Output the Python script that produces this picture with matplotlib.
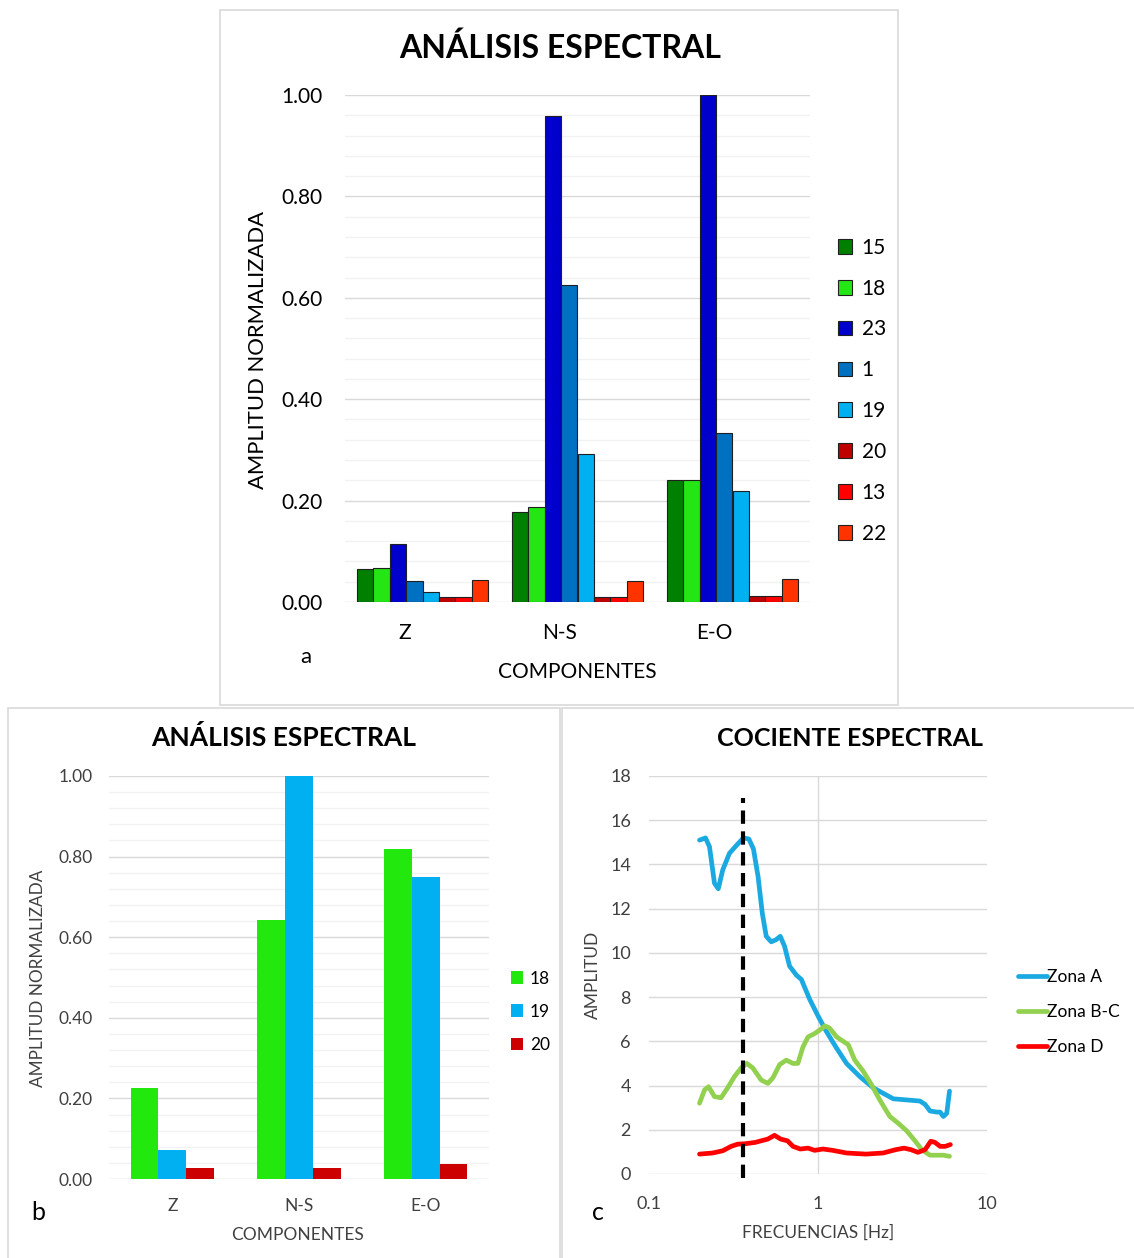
import numpy as np
import matplotlib.pyplot as plt
from matplotlib.patches import Rectangle
from matplotlib.ticker import MultipleLocator, FuncFormatter
from matplotlib.transforms import ScaledTranslation

W, H = 1134, 1258
plt.rcParams['font.family'] = ['Lato', 'DejaVu Sans']

# ---- data: panel a ----
componentes = ["Z", "N-S", "E-O"]
labels_a = ["15", "18", "23", "1", "19", "20", "13", "22"]
amp_15 = [0.065, 0.177, 0.240]
amp_18 = [0.067, 0.188, 0.240]
amp_23 = [0.114, 0.958, 1.000]
amp_1 = [0.042, 0.625, 0.334]
amp_19 = [0.020, 0.291, 0.219]
amp_20 = [0.009, 0.009, 0.012]
amp_13 = [0.010, 0.010, 0.012]
amp_22 = [0.044, 0.042, 0.046]
colors_a = ["#008000", "#24E614", "#0000CC", "#0070C0",
            "#00B0F0", "#C00000", "#FF0000", "#FF3300"]

# ---- data: panel b ----
labels_b = ["18", "19", "20"]
b_18 = [0.227, 0.642, 0.820]
b_19 = [0.071, 1.000, 0.750]
b_20 = [0.027, 0.027, 0.038]
colors_b = ["#22E80E", "#00B0F0", "#CC0000"]

# ---- data: panel c ----
fa = [0.199, 0.216, 0.228, 0.244, 0.257, 0.273, 0.299, 0.328, 0.362, 0.390,
      0.415, 0.442, 0.468, 0.494, 0.529, 0.566, 0.598, 0.634, 0.679, 0.744,
      0.797, 0.893, 1.0, 1.12, 1.286, 1.475, 1.77, 2.12, 2.43, 2.79,
      3.35, 4.01, 4.30, 4.60, 5.04, 5.28, 5.52, 5.78, 6.0]
zona_a = [15.1, 15.2, 14.8, 13.15, 12.9, 13.75, 14.5, 14.85, 15.2, 15.15,
          14.7, 13.45, 11.8, 10.75, 10.5, 10.6, 10.75, 10.3, 9.4, 9.0,
          8.8, 7.9, 7.15, 6.45, 5.7, 5.0, 4.4, 3.9, 3.65, 3.4,
          3.35, 3.3, 3.15, 2.85, 2.8, 2.8, 2.6, 2.75, 3.75]
fbc = [0.199, 0.213, 0.225, 0.244, 0.267, 0.292, 0.320, 0.351, 0.379, 0.411,
       0.461, 0.505, 0.541, 0.593, 0.649, 0.711, 0.760, 0.815, 0.873, 0.955,
       1.02, 1.10, 1.17, 1.29, 1.41, 1.51, 1.65, 1.85, 2.07, 2.32,
       2.66, 2.98, 3.35, 3.75, 4.11, 4.60, 5.04, 5.52, 6.0]
zona_bc = [3.2, 3.8, 3.95, 3.5, 3.45, 3.9, 4.4, 4.8, 5.0, 4.8,
           4.25, 4.1, 4.35, 4.95, 5.15, 5.0, 5.0, 5.75, 6.2, 6.35,
           6.5, 6.7, 6.6, 6.2, 6.0, 5.85, 5.15, 4.65, 4.05, 3.35,
           2.6, 2.3, 1.95, 1.5, 1.1, 0.85, 0.85, 0.85, 0.8]
fd = [0.199, 0.238, 0.273, 0.306, 0.335, 0.372, 0.426, 0.45, 0.505, 0.553,
      0.601, 0.660, 0.711, 0.786, 0.873, 0.955, 1.07, 1.22, 1.475, 1.92,
      2.43, 2.88, 3.23, 3.55, 3.90, 4.30, 4.65, 4.92, 5.28, 5.66, 6.07]
zona_d = [0.9, 0.95, 1.05, 1.25, 1.35, 1.37, 1.43, 1.48, 1.58, 1.75,
          1.58, 1.5, 1.25, 1.13, 1.17, 1.07, 1.13, 1.07, 0.95, 0.9,
          0.95, 1.1, 1.17, 1.1, 0.98, 1.1, 1.48, 1.43, 1.25, 1.25, 1.33]
f_pico = 0.362
pico_range = [-0.2, 17.0]


def box(x0, y0, x1, y1):
    return [x0 / W, 1 - y1 / H, (x1 - x0) / W, (y1 - y0) / H]


def fx(x):
    return x / W


def fy(y):
    return 1 - y / H


fig = plt.figure(figsize=(W / 100, H / 100), dpi=100)

# panel borders
for (x0, y0, x1, y1) in [(220, 10, 898, 705), (8, 708, 560, 1262), (562, 708, 1138, 1262)]:
    fig.add_artist(Rectangle((fx(x0), fy(y1)), (x1 - x0) / W, (y1 - y0) / H,
                             transform=fig.transFigure, fill=False,
                             edgecolor="#d9d9d9", linewidth=1.2))


def style_bar_axes(ax, tick_color, fs):
    ax.set_ylim(0, 1)
    ax.set_xlim(-0.5, 2.5)
    ax.yaxis.set_major_locator(MultipleLocator(0.2))
    ax.yaxis.set_minor_locator(MultipleLocator(0.04))
    ax.yaxis.set_major_formatter(FuncFormatter(lambda v, p: f"{v:.2f}"))
    ax.grid(axis="y", which="major", color="#d9d9d9", linewidth=1)
    ax.grid(axis="y", which="minor", color="#f2f2f2", linewidth=1)
    ax.set_axisbelow(True)
    for s in ax.spines.values():
        s.set_visible(False)
    ax.tick_params(which="both", length=0, labelsize=fs, colors=tick_color)


# ---- panel a ----
ax = fig.add_axes(box(345, 95, 810, 602))
x = np.arange(len(componentes))
w = 0.106
series_a = [amp_15, amp_18, amp_23, amp_1, amp_19, amp_20, amp_13, amp_22]
for i, (vals, lab, col) in enumerate(zip(series_a, labels_a, colors_a)):
    ax.bar(x + (i - 3.5) * w, vals, w, color=col, edgecolor="#202020",
           linewidth=0.8, label=lab, zorder=3)
style_bar_axes(ax, "#000000", 15)
ax.tick_params(axis="y", pad=16)
ax.set_xticks(x, componentes)
ax.tick_params(axis="x", pad=15)
for t in ax.get_xticklabels():
    t.set_transform(t.get_transform() + ScaledTranslation(-0.18, 0, fig.dpi_scale_trans))
ax.legend(loc="upper left", bbox_to_anchor=(fx(819), fy(219)),
          bbox_transform=fig.transFigure, frameon=False, fontsize=15,
          handlelength=0.7, handleheight=0.7, handletextpad=0.45,
          labelspacing=1.0)
fig.text(fx(560), fy(48), "ANÁLISIS ESPECTRAL", ha="center", va="center",
         fontsize=23, fontweight="bold")
fig.text(fx(258), fy(350), "AMPLITUD NORMALIZADA", ha="center", va="center",
         rotation=90, fontsize=15.8)
fig.text(fx(577), fy(672), "COMPONENTES", ha="center", va="center", fontsize=15)
fig.text(fx(306), fy(657), "a", ha="center", va="center", fontsize=16)

# ---- panel b ----
ax = fig.add_axes(box(109, 776, 489, 1179))
wb = 0.22
series_b = [b_18, b_19, b_20]
for i, (vals, lab, col) in enumerate(zip(series_b, labels_b, colors_b)):
    ax.bar(x + (i - 1) * wb, vals, wb, color=col, label=lab, zorder=3)
style_bar_axes(ax, "#404040", 12.5)
ax.tick_params(axis="y", pad=12)
ax.set_xticks(x, componentes)
ax.tick_params(axis="x", pad=14)
ax.legend(loc="upper left", bbox_to_anchor=(fx(495), fy(955)),
          bbox_transform=fig.transFigure, frameon=False, fontsize=12.5,
          handlelength=0.7, handleheight=0.7, handletextpad=0.4,
          labelspacing=0.98)
fig.text(fx(284), fy(738), "ANÁLISIS ESPECTRAL", ha="center", va="center",
         fontsize=19, fontweight="bold")
fig.text(fx(38), fy(978), "AMPLITUD NORMALIZADA", ha="center", va="center",
         rotation=90, fontsize=12.3, color="#404040")
fig.text(fx(298), fy(1235), "COMPONENTES", ha="center", va="center",
         fontsize=12.5, color="#404040")
fig.text(fx(38), fy(1213), "b", ha="center", va="center", fontsize=18)

# ---- panel c ----
ax = fig.add_axes(box(649, 776, 987, 1174))
ax.set_xscale("log")
ax.plot(fa, zona_a, color="#1BA9E1", lw=3.4, solid_joinstyle="round",
        solid_capstyle="round", label="Zona A", zorder=3)
ax.plot(fbc, zona_bc, color="#92D050", lw=3.4, solid_joinstyle="round",
        solid_capstyle="round", label="Zona B-C", zorder=3)
ax.plot(fd, zona_d, color="#FF0000", lw=3.4, solid_joinstyle="round",
        solid_capstyle="round", label="Zona D", zorder=3)
ax.plot([f_pico, f_pico], pico_range, color="black", lw=3,
        dashes=(3.2, 1.8), zorder=4, clip_on=False)
ax.set_xlim(0.1, 10)
ax.set_ylim(0, 18)
ax.yaxis.set_major_locator(MultipleLocator(2))
ax.set_xticks([0.1, 1, 10], ["0.1", "1", "10"])
ax.xaxis.set_minor_locator(plt.NullLocator())
ax.grid(axis="y", color="#d9d9d9", linewidth=1)
ax.axvline(1, color="#d9d9d9", linewidth=1, zorder=0)
ax.set_axisbelow(True)
for s in ax.spines.values():
    s.set_visible(False)
ax.tick_params(length=0, labelsize=13, colors="#404040")
ax.tick_params(axis="y", pad=13)
ax.tick_params(axis="x", pad=16)
ax.legend(loc="upper left", bbox_to_anchor=(fx(1002), fy(953)),
          bbox_transform=fig.transFigure, frameon=False, fontsize=12.5,
          handlelength=1.7, handletextpad=0.0, labelspacing=1.1)
fig.text(fx(850), fy(738), "COCIENTE ESPECTRAL", ha="center", va="center",
         fontsize=18, fontweight="bold")
fig.text(fx(593), fy(975), "AMPLITUD", ha="center", va="center",
         rotation=90, fontsize=12.5, color="#404040")
fig.text(fx(818), fy(1233), "FRECUENCIAS [Hz]", ha="center", va="center",
         fontsize=12.5, color="#404040")
fig.text(fx(598), fy(1213), "c", ha="center", va="center", fontsize=18)

fig.savefig("out.png", dpi=100)
